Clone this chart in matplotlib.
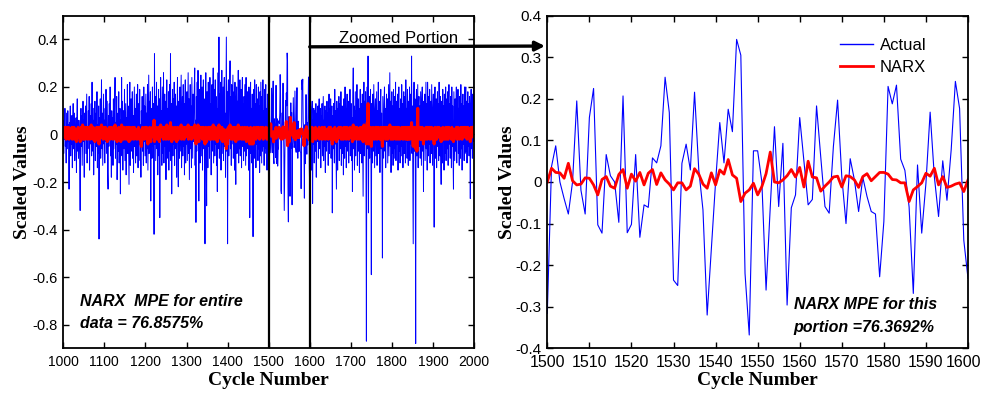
import numpy as np
import matplotlib
matplotlib.use("Agg")
import matplotlib.pyplot as plt
import matplotlib.transforms as mtransforms
from matplotlib.patches import ConnectionPatch
from matplotlib.lines import Line2D

plt.rcParams['font.family'] = ['Liberation Sans', 'DejaVu Sans']
plt.rcParams['axes.unicode_minus'] = False

# ---------------- data ----------------
# Actual values, cycles 1000-1499 (in hundredths)
actual_a_pct = [
    3, -8, 6, -2, 11, -5, 2, -12, 9, 1, -6, 10, -3, 4, -23, 5, -1, 12, -9, 3,
    -4, 8, -14, 2, 13, -6, 0, 9, -11, 4, -2, 7, -16, 5, 15, -7, 3, -10, 6, 1,
    -9, -32, 4, 11, -5, 8, -13, 2, 14, -3, 6, -18, 9, -1, 12, -8, 4, 17, -12, 3,
    -6, 10, -2, 16, -15, 5, 8, -4, 13, -9, 22, -7, 1, 11, -17, 6, -3, 14, -11, 2,
    9, -5, 18, -14, 4, -8, 12, -44, 7, -2, 15, -10, 3, 23, -6, 9, -13, 1, 17, -4,
    6, -12, 11, -3, 19, -8, 2, 14, -16, -23, 8, -5, 13, -1, 20, -9, 4, -18, 10, -2,
    7, -13, 15, -6, 3, 12, 24, -10, 5, -4, 16, -19, 1, 9, -7, 18, -12, 2, 11, -25,
    6, -3, 24, -9, 14, -15, 4, 10, -6, 19, -11, 1, 13, -17, 7, -2, 21, -8, 12, -4,
    -21, 9, 22, -13, 5, 15, -7, 2, 18, -10, 8, -16, 3, 20, -5, 11, -12, 6, 17, -9,
    1, 21, -14, 7, 13, -4, 19, -11, 4, -18, 10, 2, 16, -7, 8, -13, 20, -3, 12, -9,
    5, 17, -12, 9, -6, 21, -15, 3, 25, -8, 14, -2, 18, -28, 6, 11, -10, 20, -5, 13,
    -7, -42, 34, -4, 16, -11, 8, 22, -6, 12, -17, 5, 19, -9, 15, -35, 7, 24, -3, 10,
    -13, 20, 4, -8, 26, -12, 9, 17, -5, 14, -19, 6, 23, -10, 11, -2, 18, -15, 8, 21,
    -7, 34, -11, 13, -25, 5, 19, -9, 15, -4, 22, -13, 7, 17, -6, 12, -18, 9, 24, -3,
    -22, 14, 6, -10, 20, -7, 11, 25, -14, 4, 16, -9, 21, -5, 13, -17, 8, 23, -12, 10,
    -4, 18, -11, 7, 26, -8, 15, -19, 3, 21, -6, 12, -14, 24, 5, -10, 17, -3, 9, 20,
    28, -13, 6, -37, 16, -7, 22, -4, 27, 11, -28, 8, 19, -12, 13, 25, -9, 4, 20, -15,
    10, 23, -6, 15, -11, -46, 12, 26, -8, -30, 18, 7, -14, 22, -5, 16, -10, 24, -2, 13,
    -17, 9, 21, -7, 14, 28, -12, 5, 19, -9, 23, -4, 16, -13, 11, -24, 8, 26, -6, 41,
    -10, 17, 2, 22, -15, 12, 27, -8, 6, 20, -11, 15, 24, -5, 9, -18, 13, 41, -7, 18,
    -46, 14, 23, -9, 10, 19, 31, -6, 16, -13, 21, -4, 12, 25, -10, 7, 18, -15, 22, -3,
    -21, 11, 20, -8, 14, 5, 27, -12, 17, -6, 23, -9, 10, 19, -14, 8, 24, -5, 13, -11,
    16, -7, 21, 4, -13, 24, -9, 12, 18, -6, 10, -15, 20, -3, -35, 14, 22, -8, 11, -12,
    17, -5, -43, 9, 19, -10, 23, -7, 13, -14, 21, -4, 15, 8, -11, 20, -6, 12, -16, 18,
    -9, 22, 3, -12, 16, -7, 23, -5, 10, -13, 19, -8, 14, 21, -6, 11, -15, 17, -4, 5,
]

# Actual values, cycles 1500-1600 (zoomed portion)
actual_zoom = [
    -0.316, 0.037, 0.087, 0.0, -0.04, -0.077, 0.0, 0.195, -0.02, -0.077,
    0.155, 0.225, -0.103, -0.123, 0.066, 0.015, 0.0, -0.097, 0.207, -0.122,
    -0.102, 0.066, -0.133, -0.055, -0.061, 0.058, 0.046, 0.087, 0.252, 0.167,
    -0.236, -0.249, 0.045, 0.091, 0.029, 0.216, 0.03, -0.067, -0.32, -0.16,
    0.0, 0.143, 0.046, 0.175, 0.121, 0.343, 0.305, -0.22, -0.368, 0.075,
    0.075, 0.0, -0.26, -0.06, 0.133, -0.059, 0.093, -0.296, -0.062, -0.031,
    0.155, 0.05, -0.055, -0.042, 0.183, 0.06, -0.059, -0.075, 0.085, 0.197,
    0.013, -0.1, 0.056, 0.005, -0.071, 0.011, -0.035, -0.071, -0.077, -0.228,
    -0.095, 0.23, 0.188, 0.233, 0.055, 0.028, -0.06, -0.268, 0.041, -0.123,
    -0.003, 0.168, 0.013, -0.083, 0.051, -0.044, 0.077, 0.242, 0.177, -0.14,
    -0.232,
]

# Actual values, cycles 1601-2000 (in hundredths)
actual_c_pct = [
    -8, 12, 3, -15, 9, 14, -29, 6, -4, 11, -12, 2, 10, -7, 13, -18, 5, 9, -3, 12,
    -10, 7, 15, -6, 1, 11, -14, 8, -2, 13, -9, 4, 16, -11, 6, -5, 12, -16, 3, 10,
    -7, 14, -3, 9, -13, 5, 17, -8, 11, -1, 15, -10, 4, 12, -33, 8, -6, 13, 2, -12,
    19, -4, 10, -9, -23, 14, 6, -15, 11, -2, 16, -11, 7, 13, -6, 18, -13, 3, 12, -8,
    9, -17, 15, 4, -10, 20, -5, 11, -14, 8, 17, -7, 2, 14, -12, 10, -3, 19, -9, 6,
    13, -11, 7, -24, 16, 28, -6, 12, -15, 4, 18, -9, 10, -2, 21, -13, 8, 15, -7, 11,
    -16, 5, 19, -8, 13, 2, -12, 17, -5, -26, 10, 22, -9, 14, -3, 18, -11, -87, 9, 20,
    -6, 33, -33, 12, 16, -10, 7, 19, -4, -59, 13, 8, -12, 17, -7, 21, 3, -14, 11, 15,
    -9, 6, 18, -13, 10, -2, 22, -8, 14, 5, -16, 12, 19, -6, 9, -11, -52, 16, 4, -10,
    13, 20, -7, 11, -14, 8, 17, -3, 15, -12, 6, 21, -9, 10, 26, -5, 14, -16, 7, 18,
    -8, 12, -13, 19, 4, -10, 16, -6, 22, -11, 9, 14, -4, 17, -15, 8, 20, -7, 11, -12,
    15, 3, -9, 21, -5, 13, -14, 10, 18, -8, 6, 16, -12, 23, -3, 11, -10, 19, 7, -13,
    14, -6, 20, -11, 9, 17, -4, 33, -8, 12, -15, -46, 10, 22, -7, 15, -12, -88, 13, 19,
    -9, 6, 21, -14, 11, 16, -5, 12, -10, 18, 4, -13, 15, 20, -7, 9, -24, 14, -3, 17,
    -11, 8, 22, -6, 13, -15, 22, 10, -9, 16, -4, 19, -12, 7, 14, -8, 21, 2, -13, 11,
    17, -6, -39, 12, 20, -10, 8, 15, -14, 9, 18, -5, 13, -11, 22, 4, -9, 16, -7, -21,
    14, 10, -12, 19, -3, 12, -15, 17, 6, -8, 20, -11, 11, 15, -6, 18, -13, 9, 21, -4,
    13, -10, 16, 7, -14, 20, -5, 12, -9, -23, 18, 4, -11, 15, -7, 10, 20, -12, 14, -2,
    19, -8, 11, -13, 16, 5, -10, 21, -6, 13, -15, 9, 17, -4, 12, -11, 20, -8, 15, 20,
    -7, 14, -12, 10, 18, -5, 13, -9, 16, 3, -27, 11, 19, -6, 14, -10, 17, -3, 8, 27,
]

# NARX predictions, cycles 1000-1499 (in hundredths)
narx_a_pct = [
    1, 2, 0, 3, -1, 2, 1, -2, 3, 0, 2, -1, 1, 3, -2, 0, 2, 1, -1, 2,
    0, 3, -2, 1, 2, -1, 3, 0, -2, 1, 2, 0, -3, 2, 1, -1, 3, 2, -1, 0,
    2, -3, 1, 3, 0, -1, 2, 4, -2, 1, 0, 2, -2, 3, 1, -1, 2, 0, 3, -2,
    1, 2, -1, 3, 0, -2, 2, 1, 4, -1, 2, 0, -2, 3, 1, -1, 2, -3, 1, 2,
    0, 3, -1, 2, -2, 1, 3, -4, 0, 2, 1, -1, 3, 4, -1, 2, 0, -2, 3, 1,
    -1, 2, 0, 3, -2, 1, 2, -3, 1, 0, 2, -1, 3, 1, -2, 2, 0, 3, -1, 1,
    2, -2, 1, 3, 0, -1, 4, -2, 1, 2, 0, -3, 2, 1, -1, 3, 0, -2, 2, 1,
    -3, 2, 4, -1, 1, 0, 2, -2, 3, 1, -1, 2, 0, -2, 3, 1, -1, 2, 0, 3,
    -3, 1, 3, -1, 2, 0, -2, 1, 3, -1, 2, 0, -2, 3, 1, -1, 2, 0, 1, -2,
    2, 1, -1, 3, 0, -2, 2, 1, -1, -4, -5, -2, 1, 3, -1, 0, 2, -2, 1, 3,
    0, 2, -1, 3, -2, 1, -4, 2, 1, -1, 3, 0, -2, -3, 2, 1, -1, 3, 0, 2,
    -1, 6, -3, 2, 1, -2, 3, 0, -1, 2, 1, -2, 3, 0, -3, 2, 1, 4, -1, 0,
    2, -1, 3, 1, -2, 2, 0, 3, -1, 1, -2, 2, 4, -1, 0, 2, -2, 3, 1, -1,
    2, 5, -2, 1, -3, 2, 3, -1, 0, 2, 1, -2, 3, 0, -1, 2, -3, 1, 3, 0,
    -2, 2, 1, -1, 3, 0, 2, 4, -2, 1, 2, -1, 3, 0, -2, 1, 3, -1, 2, 0,
    1, 3, -1, 2, 4, -2, 1, 0, 2, 3, -1, 1, -2, 3, 0, 2, 1, -1, 2, 3,
    4, -2, 1, -4, 2, 0, 3, -1, 4, 1, -3, 2, 0, -1, 3, 2, -1, 1, 3, -2,
    0, 3, -1, 2, 0, -4, 1, 3, -2, -3, 2, 0, -1, 3, 1, 2, -2, 3, 0, 1,
    -2, 1, 3, -1, 2, 4, -2, 0, 2, -1, 3, 1, -2, 0, 2, -3, 1, 3, -1, 4,
    -1, 2, 0, 3, -2, 1, 3, -2, -3, 2, -1, 1, 2, -1, 0, -4, 1, -6, -3, 2,
    -4, 1, 3, -1, 0, 2, 4, -1, 2, -2, 3, 0, 1, 3, -2, 0, 2, -1, 3, 0,
    -3, 1, 2, -1, 3, 0, 4, -2, 2, 0, 3, -1, 1, 2, -2, 0, 3, -1, 2, -2,
    1, -1, 3, 0, -2, 2, -3, 1, 3, -1, 0, -2, 2, 0, -4, 1, 3, -2, -4, -1,
    2, 0, -4, 1, 3, -1, 2, 0, 1, -2, 3, 0, 2, 1, -1, 3, 0, 1, -2, 2,
    -1, 3, 0, 2, -1, 1, 3, -2, 0, 2, -1, 2, 1, 3, -1, 1, -2, 2, 0, 1,
]

# NARX predictions, cycles 1500-1600 (zoomed portion)
narx_zoom = [
    0.0, 0.033, 0.023, 0.022, 0.009, 0.045, 0.003, -0.007, -0.005, 0.01,
    0.009, -0.007, -0.031, 0.006, 0.013, -0.01, -0.015, 0.018, 0.03, -0.015,
    0.019, 0.002, 0.023, -0.007, 0.021, 0.03, -0.006, 0.022, 0.005, -0.005,
    -0.019, -0.002, -0.002, -0.019, -0.01, 0.032, 0.019, -0.005, -0.015, 0.022,
    -0.007, 0.029, 0.019, 0.054, 0.017, 0.009, -0.047, -0.027, -0.019, -0.003,
    -0.031, -0.011, 0.02, 0.072, 0.0, -0.002, 0.005, 0.015, 0.03, 0.012,
    0.035, -0.012, 0.05, 0.012, 0.01, -0.022, -0.01, 0.0, 0.012, 0.014,
    -0.012, 0.015, 0.013, 0.005, -0.013, 0.013, 0.02, 0.003, 0.013, 0.023,
    0.023, 0.019, 0.006, 0.005, -0.002, -0.002, -0.047, -0.019, -0.011, -0.002,
    0.021, 0.014, 0.033, -0.007, 0.013, -0.013, -0.01, -0.005, -0.002, -0.023,
    0.005,
]

# NARX predictions, cycles 1601-2000 (in hundredths)
narx_c_pct = [
    2, 0, 3, -1, 1, 3, -3, 0, 2, 1, -1, 2, 0, 3, -2, 1, 2, -1, 0, 2,
    -1, 1, 3, -2, 0, 2, -1, 1, 0, 3, -2, 1, 2, -1, 0, 3, 1, -2, 0, 2,
    -1, 2, 0, 1, -2, 1, 3, -1, 2, 0, 3, -2, 0, 2, -4, 1, -1, 2, 0, -2,
    3, 0, 2, -1, -3, 2, 1, -2, 1, 0, 3, -1, 1, 2, -1, 3, -2, 0, 2, -1,
    1, -2, 3, 0, -1, 3, 0, 1, -2, 1, 3, -1, 0, 2, -2, 1, 0, 3, -1, 1,
    2, -1, 1, -3, 2, 4, -1, 2, -2, 0, 3, -1, 1, 0, 3, -2, 1, 2, -1, 1,
    -2, 0, 3, -1, 2, 0, -2, 3, 0, -3, 1, 4, -1, 2, 0, 3, -1, -4, 1, 5,
    3, 13, -4, 2, 3, -3, 1, 3, 0, -5, 2, 1, -2, 3, -1, 2, 0, -2, 1, 3,
    -1, 1, 3, -2, 1, 0, 3, -1, 2, 0, -2, 1, 3, -1, 1, -2, -5, 3, 0, -1,
    2, 3, -1, 1, -2, 1, 3, 0, 2, -2, 1, 3, -1, 1, 4, 0, 2, -2, 1, 3,
    -1, 2, -2, 3, 0, -1, 2, 0, 3, -2, 1, 2, 0, 3, -2, 1, 3, -1, 1, -2,
    2, 0, -1, 3, 0, 2, -2, 1, 3, -1, 0, 2, -2, 3, 0, 1, -2, 3, 1, -2,
    2, -1, 3, -2, 1, 2, 0, 5, -1, 1, -2, -5, 1, 3, -1, 2, -3, -6, 2, 3,
    -7, 1, 11, -2, 2, 3, -1, 1, -2, 3, 0, -2, 2, 3, -1, 1, -4, 2, 0, 2,
    -2, 1, 3, -1, 2, -2, 3, 1, -1, 2, 0, 3, -2, 1, 2, -1, 3, 0, -2, 1,
    2, -1, -4, 2, 3, -2, 1, 2, -2, 1, 3, 0, 2, -1, 3, 0, -1, 2, -1, -3,
    2, 1, -2, 3, 0, 1, -2, 2, 1, -1, 3, -2, 1, 2, -1, 3, -2, 1, 3, 0,
    2, -1, 2, 1, -2, 3, 0, 1, -1, -3, 2, 0, -1, 2, -1, 1, 3, -2, 2, 0,
    3, -1, 1, -2, 2, 1, -1, 3, 0, 2, -2, 1, 3, 0, 2, -1, 3, -1, 2, 3,
    -1, 2, -2, 1, 3, 0, 2, -1, 2, 0, -3, 1, 3, -1, 2, -1, 3, 0, 1, 3,
]

left_xticks = [1000, 1100, 1200, 1300, 1400, 1500, 1600, 1700, 1800, 1900, 2000]
left_yticks = [-0.8, -0.6, -0.4, -0.2, 0, 0.2, 0.4]
left_ylabels = ['-0.8', '-0.6', '-0.4', '-0.2', '0', '0.2', '0.4']
right_xticks = [1500, 1510, 1520, 1530, 1540, 1550, 1560, 1570, 1580, 1590, 1600]
right_yticks = [-0.4, -0.3, -0.2, -0.1, 0, 0.1, 0.2, 0.3, 0.4]
right_ylabels = ['-0.4', '-0.3', '-0.2', '-0.1', '0', '0.1', '0.2', '0.3', '0.4']

# ---------------- assemble ----------------
actual_full = np.concatenate([np.array(actual_a_pct) / 100.0,
                              np.array(actual_zoom),
                              np.array(actual_c_pct) / 100.0])
narx_full = np.concatenate([np.array(narx_a_pct) / 100.0,
                            np.array(narx_zoom),
                            np.array(narx_c_pct) / 100.0])
cycles_full = 1000 + np.arange(len(actual_full))
cycles_zoom = 1500 + np.arange(len(actual_zoom))

BLUE = '#0000ff'
RED = '#ff0000'

fig = plt.figure(figsize=(9.84, 3.94), dpi=100)
W, H = 984.0, 394.0
ax1 = fig.add_axes([63.3 / W, 1 - 348.3 / H, 410.7 / W, 332.6 / H])
ax2 = fig.add_axes([547.3 / W, 1 - 348.3 / H, 420.7 / W, 332.6 / H])

# left panel
ax1.plot(cycles_full, actual_full, color=BLUE, lw=0.7)
ax1.plot(cycles_full, narx_full, color=RED, lw=2.2)
ax1.set_xlim(1000, 2000)
ax1.set_ylim(-0.9, 0.5)
ax1.set_xticks(left_xticks)
ax1.set_xticklabels([str(t) for t in left_xticks], fontsize=10)
ax1.set_yticks(left_yticks)
ax1.set_yticklabels(left_ylabels, fontsize=10.5)
ax1.axvline(1500, color='k', lw=1.6)
ax1.axvline(1600, color='k', lw=1.6)

# right panel
ax2.plot(cycles_zoom, actual_zoom, color=BLUE, lw=0.8)
ax2.plot(cycles_zoom, narx_zoom, color=RED, lw=2.0)
ax2.set_xlim(1500, 1600)
ax2.set_ylim(-0.4, 0.4)
ax2.set_xticks(right_xticks)
ax2.set_xticklabels([str(t) for t in right_xticks], fontsize=11.5)
ax2.set_yticks(right_yticks)
ax2.set_yticklabels(right_ylabels, fontsize=11)

label_font = dict(family=['Liberation Serif', 'DejaVu Serif'], weight='bold', size=14)
for ax in (ax1, ax2):
    ax.tick_params(direction='in', top=True, right=True, length=4, width=1,
                   pad=4, colors='k')
    ax.tick_params(axis='x', pad=5)
    for s in ax.spines.values():
        s.set_linewidth(1.3)
    ax.set_xlabel('Cycle Number', **label_font)
    ax.set_ylabel('Scaled Values', **label_font)
    ax.xaxis.set_label_coords(0.5, -0.072)
ax1.yaxis.set_label_coords(-0.079, 0.5)
ax2.yaxis.set_label_coords(-0.074, 0.5)

# keep the last right-panel x label inside the figure edge
last_lbl = ax2.get_xticklabels()[-1]
last_lbl.set_transform(last_lbl.get_transform() +
                       mtransforms.ScaledTranslation(-3 / 72, 0, fig.dpi_scale_trans))

# annotations
txt = dict(fontsize=11.5, fontweight='bold', fontstyle='italic', va='baseline', ha='left')
ax1.text(1040.6, -0.722, 'NARX  MPE for entire', **txt)
ax1.text(1040.6, -0.8135, 'data = 76.8575%', **txt)
ax2.text(1558.6, -0.306, 'NARX MPE for this', **txt)
ax2.text(1558.6, -0.360, 'portion =76.3692%', **txt)

ax1.text(1817, 0.385, 'Zoomed Portion', fontsize=12, ha='center', va='baseline')

arrow = ConnectionPatch(xyA=(1600, 0.369), coordsA=ax1.transData,
                        xyB=(1499.45, 0.327), coordsB=ax2.transData,
                        arrowstyle='-|>', lw=2.4, color='k',
                        mutation_scale=14, shrinkA=0, shrinkB=0)
fig.add_artist(arrow)

handles = [Line2D([], [], color=BLUE, lw=1.0), Line2D([], [], color=RED, lw=2.0)]
ax2.legend(handles, ['Actual', 'NARX'], loc='upper left', bbox_to_anchor=(0.696, 0.932),
           frameon=False, fontsize=12, borderpad=0, borderaxespad=0,
           handlelength=2.0, handletextpad=0.4, labelspacing=0.4)

fig.savefig('out.png', dpi=100)
